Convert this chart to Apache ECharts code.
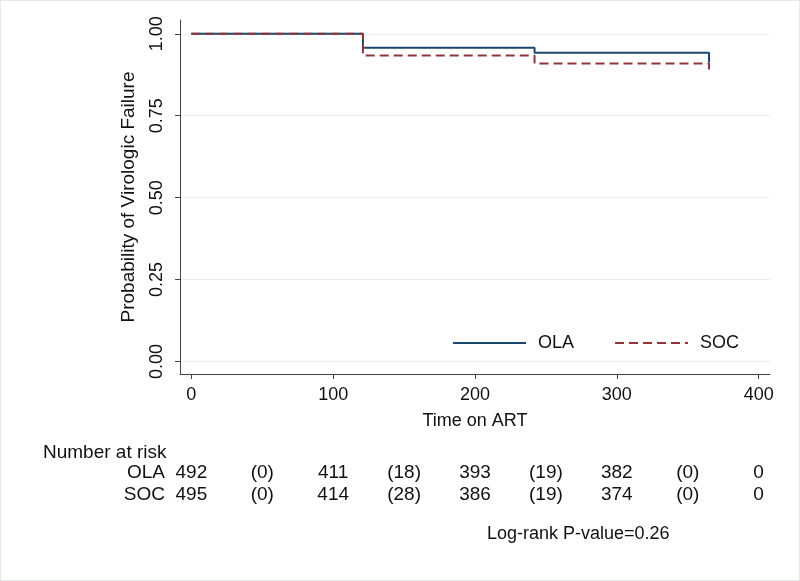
<!DOCTYPE html>
<html>
<head>
<meta charset="utf-8">
<script src="https://cdn.jsdelivr.net/npm/echarts@6/dist/echarts.min.js"></script>
<style>
html,body{margin:0;padding:0;background:#fff;}
#frame{width:800px;height:581px;box-sizing:border-box;border:1px solid #e4eaed;}
#chart{width:798px;height:579px;}
</style>
</head>
<body>
<div id="frame"><div id="chart"></div></div>
<script>
// Kaplan-Meier step data
var olaTimes = [0, 121, 242, 365];
var olaSurv = [1.0, 0.957, 0.942, 0.912];
var socTimes = [0, 121, 242, 365];
var socSurv = [1.0, 0.934, 0.909, 0.891];

// axis ticks
var xTicks = [0, 100, 200, 300, 400];
var yTicks = [0, 0.25, 0.5, 0.75, 1.0];

// number at risk table
var riskTimes = [0, 100, 200, 300, 400];
var censTimes = [50, 150, 250, 350];
var olaRisk = [492, 411, 393, 382, 0];
var olaCens = [0, 18, 19, 0];
var socRisk = [495, 414, 386, 374, 0];
var socCens = [0, 28, 19, 0];

var groups = ['OLA', 'SOC'];
var pValueText = 'Log-rank P-value=0.26';

var FONT = 'Liberation Sans, Arial, Helvetica, sans-serif';
var BLUE = '#1a476f';
var RED = '#90353b';

function pairs(xs, ys) { return xs.map(function (x, i) { return [x, ys[i]]; }); }

function tableData(group, risk, cens) {
  var d = [];
  riskTimes.forEach(function (t, i) { d.push({ value: [t, group], txt: String(risk[i]) }); });
  censTimes.forEach(function (t, i) { d.push({ value: [t, group], txt: '(' + cens[i] + ')' }); });
  return d;
}

var chart = echarts.init(document.getElementById('chart'), null, { renderer: 'canvas' });
var textColor = '#111';

chart.setOption({
  backgroundColor: '#fff',
  animation: false,
  textStyle: { fontFamily: FONT },
  title: [
    { text: 'Number at risk', left: 37, top: 437, textStyle: { fontFamily: FONT, fontSize: 19, fontWeight: 'normal', color: textColor } },
    { text: pValueText, left: 481, top: 519, textStyle: { fontFamily: FONT, fontSize: 18, fontWeight: 'normal', color: textColor } }
  ],
  legend: {
    data: groups,
    left: 446, top: 328,
    itemWidth: 73, itemHeight: 14, itemGap: 40,
    itemStyle: { opacity: 0 },
    textStyle: { fontFamily: FONT, fontSize: 18, color: textColor, padding: [0, 0, 0, 7] }
  },
  grid: [
    { left: 179, right: 29, top: 19, bottom: 206 },
    { left: 179, right: 29, top: 461, height: 44 }
  ],
  xAxis: [
    {
      gridIndex: 0, type: 'value', min: -8, max: 408,
      name: 'Time on ART', nameLocation: 'middle', nameGap: 38,
      nameTextStyle: { fontFamily: FONT, fontSize: 18, color: textColor },
      axisLine: { show: true, onZero: false, lineStyle: { color: '#444', width: 1 } },
      axisTick: { show: true, length: 5, customValues: xTicks, lineStyle: { color: '#444' } },
      axisLabel: { customValues: xTicks, fontFamily: FONT, fontSize: 18, color: textColor, margin: 12 },
      splitLine: { show: false }
    },
    {
      gridIndex: 1, type: 'value', min: -8, max: 408, show: false
    }
  ],
  yAxis: [
    {
      gridIndex: 0, type: 'value', min: -0.038, max: 1.042,
      name: 'Probability of Virologic Failure', nameLocation: 'middle', nameGap: 42,
      nameTextStyle: { fontFamily: FONT, fontSize: 19, color: textColor },
      axisLine: { show: true, onZero: false, lineStyle: { color: '#444', width: 1 } },
      axisTick: { show: true, length: 5, customValues: yTicks, lineStyle: { color: '#444' } },
      axisLabel: {
        customValues: yTicks, rotate: 90, fontFamily: FONT, fontSize: 18, color: textColor, margin: 14,
        formatter: function (v) { return v.toFixed(2); }
      },
      splitLine: { show: true, lineStyle: { color: '#e6eff1', width: 1 } }
    },
    {
      gridIndex: 1, type: 'category', data: ['SOC', 'OLA'],
      axisLine: { show: false }, axisTick: { show: false }, splitLine: { show: false },
      axisLabel: { interval: 0, fontFamily: FONT, fontSize: 19, color: textColor, margin: 15 }
    }
  ],
  series: [
    {
      name: 'OLA', type: 'line', step: 'end', xAxisIndex: 0, yAxisIndex: 0,
      data: pairs(olaTimes, olaSurv), symbol: 'none', z: 3,
      lineStyle: { color: BLUE, width: 2 }, itemStyle: { color: BLUE }
    },
    {
      name: 'SOC', type: 'line', step: 'end', xAxisIndex: 0, yAxisIndex: 0,
      data: pairs(socTimes, socSurv), symbol: 'none', z: 4,
      lineStyle: { color: RED, width: 2, type: [9, 5] }, itemStyle: { color: RED }
    },
    {
      type: 'scatter', xAxisIndex: 1, yAxisIndex: 1, symbolSize: 0,
      itemStyle: { color: '#000', opacity: 1 },
      data: tableData('OLA', olaRisk, olaCens).concat(tableData('SOC', socRisk, socCens)),
      label: {
        show: true, position: [0, 0], align: 'center', verticalAlign: 'middle',
        fontFamily: FONT, fontSize: 19, color: textColor, textBorderWidth: 0,
        formatter: function (p) { return p.data.txt; }
      },
      silent: true
    }
  ]
});
</script>
</body>
</html>
